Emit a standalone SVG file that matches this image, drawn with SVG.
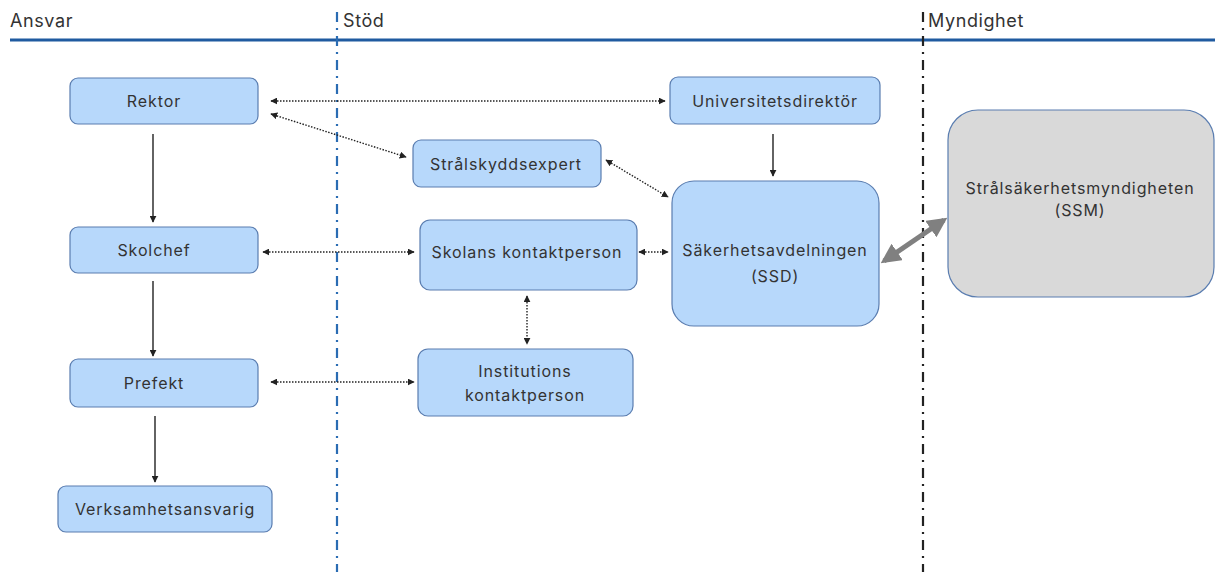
<svg xmlns="http://www.w3.org/2000/svg" width="1215" height="572" viewBox="0 0 1215 572">
<style>
.box{fill:#b7d8fb;stroke:#5a7db0;stroke-width:1.2}
.gray{fill:#d9d9d9;stroke:#5a7db0;stroke-width:1.2}
.t{font-family:Inter,"Noto Sans",sans-serif;font-size:16px;letter-spacing:0.9px;fill:#333;text-anchor:middle}
.h{font-family:Inter,"Noto Sans",sans-serif;font-size:18px;letter-spacing:0.6px;fill:#333}
.dot{stroke:#222;stroke-width:1.4;stroke-dasharray:1.5 1.5;fill:none;marker-start:url(#as);marker-end:url(#ae)}
.sol{stroke:#222;stroke-width:1.4;fill:none;marker-end:url(#ae)}
</style>
<defs>
<marker id="ae" viewBox="0 0 10 10" refX="9" refY="5" markerWidth="7" markerHeight="7" markerUnits="userSpaceOnUse" orient="auto"><path d="M0,0 L10,5 L0,10 z" fill="#222"/></marker>
<marker id="as" viewBox="0 0 10 10" refX="1" refY="5" markerWidth="7" markerHeight="7" markerUnits="userSpaceOnUse" orient="auto"><path d="M10,0 L0,5 L10,10 z" fill="#222"/></marker>
<marker id="ge" viewBox="0 0 10 10" refX="8" refY="5" markerWidth="4" markerHeight="4" orient="auto"><path d="M0,0 L10,5 L0,10 z" fill="#808080"/></marker>
<marker id="gs" viewBox="0 0 10 10" refX="2" refY="5" markerWidth="4" markerHeight="4" orient="auto"><path d="M10,0 L0,5 L10,10 z" fill="#808080"/></marker>
</defs>
<rect width="1215" height="572" fill="#fff"/>
<g id="lanes">
<line x1="10" y1="40" x2="1215" y2="40" stroke="#1f5aa0" stroke-width="3"/>
<line x1="337" y1="12" x2="337" y2="572" stroke="#2a6cb3" stroke-width="2.2" stroke-dasharray="10 6 2 6"/>
<line x1="923" y1="12" x2="923" y2="572" stroke="#222" stroke-width="2.2" stroke-dasharray="10 6 2 6"/>
<text class="h" x="10" y="27">Ansvar</text>
<text class="h" x="343" y="27">Stöd</text>
<text class="h" x="928" y="27">Myndighet</text>
</g>
<g id="connectors">
<line class="dot" x1="271" y1="101" x2="665" y2="101"/>
<line class="dot" x1="271" y1="114" x2="406" y2="157"/>
<line class="dot" x1="606" y1="160" x2="668" y2="197"/>
<line class="sol" x1="773" y1="134" x2="773" y2="176"/>
<line class="dot" x1="263" y1="252" x2="414" y2="252"/>
<line class="dot" x1="639" y1="252" x2="668" y2="252"/>
<line class="dot" x1="527" y1="296" x2="527" y2="344"/>
<line class="dot" x1="271" y1="382" x2="414" y2="382"/>
<line class="sol" x1="153" y1="134" x2="153" y2="222"/>
<line class="sol" x1="153" y1="281" x2="153" y2="356"/>
<line class="sol" x1="155" y1="416" x2="155" y2="482"/>
<line x1="884" y1="261" x2="944" y2="220" stroke="#808080" stroke-width="5" marker-start="url(#gs)" marker-end="url(#ge)"/>
</g>
<g id="rektor"><rect class="box" x="70" y="78" width="188" height="46" rx="8"/><text class="t" x="154" y="107">Rektor</text></g>
<g id="skolchef"><rect class="box" x="70" y="227" width="188" height="46" rx="8"/><text class="t" x="154" y="256">Skolchef</text></g>
<g id="prefekt"><rect class="box" x="70" y="359" width="188" height="48" rx="8"/><text class="t" x="154" y="389">Prefekt</text></g>
<g id="verksamhetsansvarig"><rect class="box" x="58" y="486" width="214" height="46" rx="8"/><text class="t" x="165" y="515">Verksamhetsansvarig</text></g>
<g id="universitetsdirektor"><rect class="box" x="670" y="77" width="210" height="47" rx="8"/><text class="t" x="775" y="107">Universitetsdirektör</text></g>
<g id="stralskyddsexpert"><rect class="box" x="413" y="140" width="188" height="47" rx="8"/><text class="t" x="506" y="170">Strålskyddsexpert</text></g>
<g id="skolans"><rect class="box" x="420" y="220" width="217" height="70" rx="10"/><text class="t" x="527" y="258">Skolans kontaktperson</text></g>
<g id="ssd"><rect class="box" x="672" y="181" width="207" height="145" rx="22"/><text class="t" x="775" y="256">Säkerhetsavdelningen</text><text class="t" x="775" y="282">(SSD)</text></g>
<g id="institutions"><rect class="box" x="418" y="349" width="215" height="67" rx="10"/><text class="t" x="525" y="377">Institutions</text><text class="t" x="525" y="401">kontaktperson</text></g>
<g id="ssm"><rect class="gray" x="948" y="110" width="266" height="187" rx="30"/><text class="t" x="1080" y="194">Strålsäkerhetsmyndigheten</text><text class="t" x="1080" y="216">(SSM)</text></g>
</svg>
